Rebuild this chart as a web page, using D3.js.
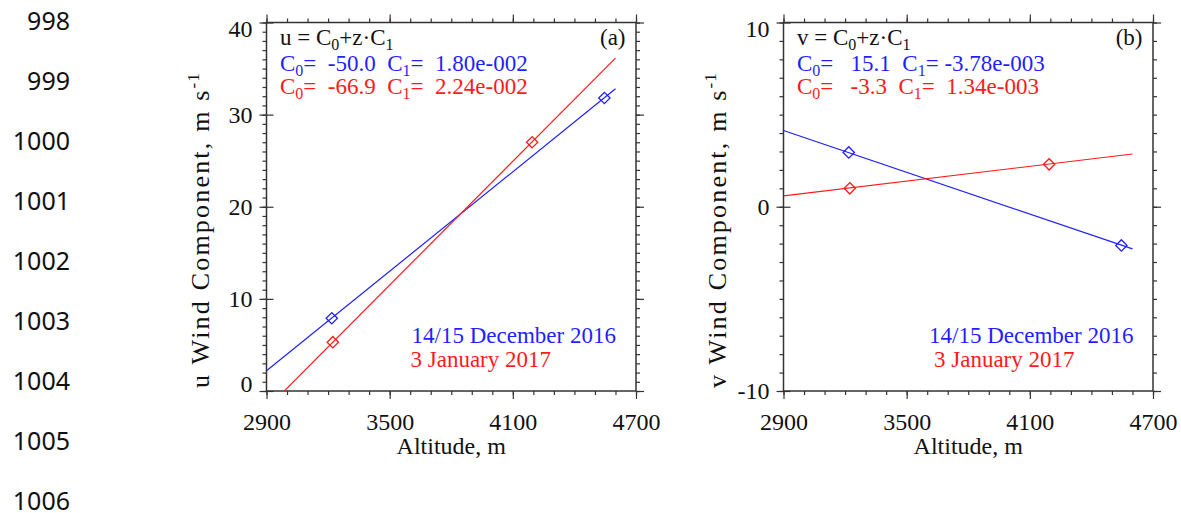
<!DOCTYPE html>
<html>
<head>
<meta charset="utf-8">
<script src="https://cdn.jsdelivr.net/npm/d3@7"></script>
<style>
  body { margin: 0; background: #fff; }
  text { font-family: "Liberation Serif", "Times New Roman", serif; white-space: pre; }
  .lineno { font-family: "Noto Sans", "Open Sans", sans-serif; }
</style>
</head>
<body>
<div class="chart"></div>
<script>
// document line numbers down the left margin
const lineNumbers = [998, 999, 1000, 1001, 1002, 1003, 1004, 1005, 1006];

// altitude axis
const altTicks = [2900, 3500, 4100, 4700];
const altDomain = [2900, 4700];

// observed points (altitude, m) and wind components (m/s)
const decAlt = [3218, 4546];
const decU = [7.9, 31.8];
const decV = [2.95, -2.1];
const janAlt = [3223, 4194];
const janU = [5.3, 27.0];
const janV = [1.0, 2.3];

// linear fit coefficients [C0, C1]
const uFitDec = [-50.0, 1.80e-2];
const uFitJan = [-66.9, 2.24e-2];
const vFitDec = [15.1, -3.78e-3];
const vFitJan = [-3.3, 1.34e-3];
const fitAlt = [2900, 4600];

// y axes
const uTicks = [0, 10, 20, 30, 40];
const vTicks = [-10, 0, 10];

const legendDec = "14/15 December 2016";
const legendJan = "3 January 2017";

const BLUE = "#1f1fff", RED = "#ff1a1a", AXIS = "#333";

const svg = d3.select('.chart').append('svg')
    .attr('width', 1181)
    .attr('height', 513);

// line numbers
svg.selectAll('.lineno')
    .data(lineNumbers)
    .enter()
    .append('text')
    .attr('class', 'lineno')
    .attr('x', 70)
    .attr('y', (d, i) => 30 + i * 60)
    .attr('text-anchor', 'end')
    .attr('font-size', 25)
    .attr('fill', '#111')
    .text(d => d);

const panels = [
    {
        id: 'a', left: 266.5, name: 'u', yDomain: [0, 40], yTicks: uTicks,
        dec: decU, jan: janU, fitDec: uFitDec, fitJan: uFitJan,
        coefDec: ['-50.0', '1.80e-002'], coefJan: ['-66.9', '2.24e-002'],
        bottomShift: -7.5, legX: [145, 144]
    },
    {
        id: 'b', left: 783.5, name: 'v', yDomain: [-10, 10], yTicks: vTicks,
        dec: decV, jan: janV, fitDec: vFitDec, fitJan: vFitJan,
        coefDec: [' 15.1', '-3.78e-003'], coefJan: [' -3.3', '1.34e-003'],
        bottomShift: 0, legX: [145.5, 150.5]
    }
];

const W = 369.5, H = 368.5, TOP = 22.5;

panels.forEach(drawPanel);

function drawPanel(p) {
    const g = svg.append('g')
        .attr('transform', `translate(${p.left},${TOP})`);

    const x = d3.scaleLinear().domain(altDomain).range([0, W]);
    const y = d3.scaleLinear().domain(p.yDomain).range([H, 0]);

    const minorX = d3.range(altDomain[0], altDomain[1] + 1, 100);
    const minorY = d3.range(p.yDomain[0], p.yDomain[1] + 1, 1);

    // minor ticks on all four sides
    const ax = [
        [d3.axisBottom(x).tickValues(minorX), `translate(0,${H})`],
        [d3.axisTop(x).tickValues(minorX), null],
        [d3.axisLeft(y).tickValues(minorY), null],
        [d3.axisRight(y).tickValues(minorY), `translate(${W},0)`]
    ];
    ax.forEach(([a, tr]) => {
        const s = g.append('g').attr('class', 'axis minor')
            .call(a.tickSize(4).tickFormat(''));
        if (tr) s.attr('transform', tr);
        s.select('.domain').remove();
    });

    // major ticks
    let xb = g.append('g')
        .attr('transform', `translate(0,${H})`)
        .call(d3.axisBottom(x).tickValues(altTicks).tickSize(8).tickPadding(14)
            .tickFormat(d => String(d)));
    xb.select('.domain').remove();
    xb.selectAll('text').attr('font-size', 24).attr('fill', '#111')
        .attr('font-family', '"Liberation Serif", serif');

    let xt = g.append('g')
        .call(d3.axisTop(x).tickValues(altTicks).tickSize(8).tickFormat(''));
    xt.select('.domain').remove();

    let yr = g.append('g')
        .attr('transform', `translate(${W},0)`)
        .call(d3.axisRight(y).tickValues(p.yTicks).tickSize(8).tickFormat(''));
    yr.select('.domain').remove();

    let yl = g.append('g')
        .call(d3.axisLeft(y).tickValues(p.yTicks).tickSize(7).tickPadding(7)
            .tickFormat(d => String(d)));
    yl.select('.domain').remove();
    yl.selectAll('.tick line').attr('x2', -7).attr('x1', 7);
    yl.selectAll('text').attr('font-size', 24).attr('fill', '#111')
        .attr('font-family', '"Liberation Serif", serif')
        .attr('dy', d => d === p.yDomain[1] ? '0.58em' : d === p.yDomain[0] ? (0.32 + p.bottomShift / 24) + 'em' : '0.32em');

    g.selectAll('.tick line').attr('stroke', AXIS).attr('stroke-width', 1.2);

    // frame
    g.append('rect')
        .attr('width', W).attr('height', H)
        .attr('fill', 'none')
        .attr('stroke', AXIS)
        .attr('stroke-width', 1.5);

    // clip for fits
    g.append('clipPath').attr('id', 'clip' + p.id)
        .append('rect').attr('width', W).attr('height', H);

    const line = d3.line().x(d => x(d[0])).y(d => y(d[1]));
    const fitPts = c => fitAlt.map(z => [z, c[0] + z * c[1]]);

    [[p.fitDec, BLUE], [p.fitJan, RED]].forEach(([c, col]) => {
        g.append('path')
            .datum(fitPts(c))
            .attr('clip-path', `url(#clip${p.id})`)
            .attr('d', line)
            .attr('fill', 'none')
            .attr('stroke', col)
            .attr('stroke-width', 1.2);
    });

    const diamond = d3.symbol().type(d3.symbolSquare).size(64);
    [[decAlt, p.dec, BLUE], [janAlt, p.jan, RED]].forEach(([alt, val, col]) => {
        g.selectAll(null)
            .data(alt.map((a, i) => [a, val[i]]))
            .enter()
            .append('path')
            .attr('d', diamond)
            .attr('transform', d => `translate(${x(d[0])},${y(d[1])}) rotate(45)`)
            .attr('fill', 'none')
            .attr('stroke', col)
            .attr('stroke-width', 1.3);
    });

    // equation and coefficients
    const eq = g.append('text')
        .attr('x', 13.5).attr('y', 45 - TOP)
        .attr('font-size', 23).attr('fill', '#111');
    addSub(eq, [p.name + ' = C', '0', '+z\u00b7C', '1']);

    const c1 = g.append('text')
        .attr('x', 13.5).attr('y', 70.5 - TOP)
        .attr('font-size', 23).attr('fill', BLUE);
    addSub(c1, ['C', '0', '=  ' + p.coefDec[0] + '  C', '1', '= ' + (p.coefDec[1][0] === '-' ? '' : ' ') + p.coefDec[1]]);

    const c2 = g.append('text')
        .attr('x', 13.5).attr('y', 93.5 - TOP)
        .attr('font-size', 23).attr('fill', RED);
    addSub(c2, ['C', '0', '=  ' + p.coefJan[0] + '  C', '1', '= ' + (p.coefJan[1][0] === '-' ? '' : ' ') + p.coefJan[1]]);

    g.append('text')
        .attr('x', W - 10.5).attr('y', 45 - TOP)
        .attr('text-anchor', 'end')
        .attr('font-size', 23).attr('fill', '#111')
        .text(`(${p.id})`);

    // legend
    g.append('text')
        .attr('x', p.legX[0]).attr('y', 342.7 - TOP)
        .attr('font-size', 23).attr('fill', BLUE)
        .text(legendDec);
    g.append('text')
        .attr('x', p.legX[1]).attr('y', 367 - TOP)
        .attr('font-size', 23).attr('fill', RED)
        .text(legendJan);

    // axis titles
    g.append('text')
        .attr('x', W / 2).attr('y', 454 - TOP)
        .attr('text-anchor', 'middle')
        .attr('font-size', 24).attr('fill', '#111')
        .text('Altitude, m');

    const yt = g.append('text')
        .attr('transform', `translate(${209 - 266.5},${388 - TOP}) rotate(-90)`)
        .attr('font-size', 26).attr('letter-spacing', 2.2).attr('fill', '#111');
    yt.append('tspan').text(p.name + ' Wind Component, m s');
    yt.append('tspan').attr('dy', -10).attr('font-size', 17).attr('letter-spacing', 1).text('-1');
}

function addSub(t, parts) {
    parts.forEach((s, i) => {
        const sub = i % 2 === 1;
        t.append('tspan')
            .attr('dy', sub ? 5 : (i > 0 ? -5 : 0))
            .attr('font-size', sub ? 16 : null)
            .text(s);
    });
}
</script>
</body>
</html>
